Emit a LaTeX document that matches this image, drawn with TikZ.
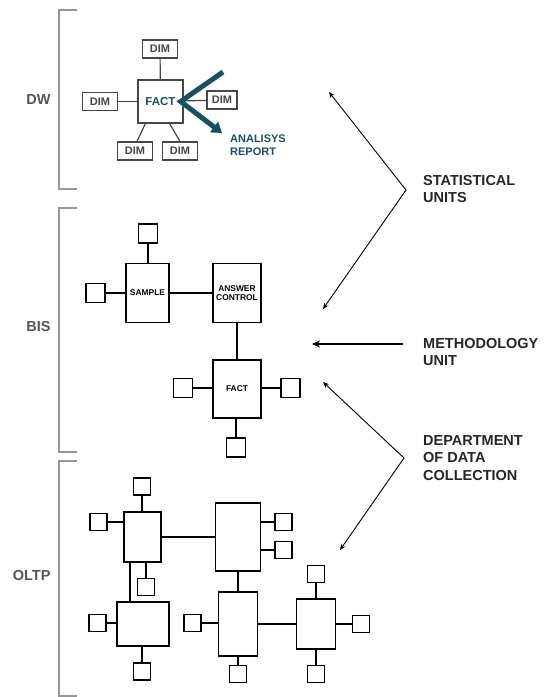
\documentclass[tikz,border=0pt]{standalone}
\usepackage{fontspec}
\setmainfont{Liberation Sans}
\usetikzlibrary{arrows.meta,positioning,calc}
\definecolor{dwteal}{RGB}{24,80,94}
\definecolor{dwgray}{RGB}{70,70,70}
\definecolor{brgray}{RGB}{150,150,150}
\definecolor{lblgray}{RGB}{85,85,85}

\begin{document}
\begin{tikzpicture}[x=1pt,y=-1pt,
    bracket/.style={draw=brgray, line width=2pt},
    lbl/.style={font=\bfseries\fontsize{14.5}{17.5}\selectfont, text=lblgray, anchor=east},
    side/.style={font=\bfseries\fontsize{14.5}{17.5}\selectfont, text=black!85, anchor=west, align=left, inner sep=0pt},
    dimbox/.style={draw=dwgray, line width=1.1pt, minimum width=35pt, minimum height=18pt, inner sep=0pt, font=\bfseries\fontsize{11}{12}\selectfont, text=dwgray},
    dwfactbox/.style={draw=dwgray, line width=1.3pt, minimum width=45pt, minimum height=43pt, inner sep=0pt, font=\bfseries\fontsize{11.5}{12}\selectfont, text=dwteal},
    bigbox/.style={draw, line width=1.6pt, inner sep=0pt, align=center, font=\bfseries\fontsize{8.4}{9.7}\selectfont},
    sbox/.style={draw, line width=1.1pt, minimum size=19pt, inner sep=0pt},
    obox/.style={draw, line width=1.1pt, minimum size=17pt, inner sep=0pt},
    link/.style={line width=1.8pt},
    dwlink/.style={draw=dwgray, line width=1.2pt},
    pointer/.style={line width=0.9pt, {Stealth[length=6pt,width=5pt]}-{Stealth[length=6pt,width=5pt]}}
]
\useasboundingbox (0,0) rectangle (544,697);

% brackets and section labels
\draw[bracket] (77,10) -- (59,10) -- (59,189) -- (77,189);
\draw[bracket] (77,208) -- (59,208) -- (59,452) -- (77,452);
\draw[bracket] (77,461) -- (59,461) -- (59,695.5) -- (77,695.5);
\node[lbl] (dw) at (54,100) {DW};
\node[lbl] (bis) at (54,327) {BIS};
\node[lbl] (oltp) at (54,576) {OLTP};

% DW
\node[dwfactbox] (dwfact) at (160.5,101.5) {FACT};
\node[dimbox] (dimT) at (160,49) {DIM};
\node[dimbox] (dimL) at (100,101.5) {DIM};
\node[dimbox, minimum width=30pt] (dimR) at (222,100) {DIM};
\node[dimbox] (dimBL) at (135,151) {DIM};
\node[dimbox] (dimBR) at (180,151) {DIM};
\draw[dwlink] (dwfact) -- (dimT);
\draw[dwlink] (dwfact) -- (dimL);
\draw[dwlink] (dwfact) -- (dimR);
\draw[dwlink] ([xshift=8pt]dwfact.south west) -- ([xshift=2pt]dimBL.north);
\draw[dwlink] ([xshift=-14pt]dwfact.south east) -- (dimBR.north);
\coordinate (tealin) at (223,72);
\coordinate (tealout) at (222,133);
\draw[dwteal, line width=5pt, miter limit=10, -{Triangle[length=10pt,width=13pt]}] (tealin) -- ([xshift=-3pt]dwfact.east) -- (tealout);
\node[font=\bfseries\fontsize{11}{12.5}\selectfont, text=dwteal, align=left, anchor=north west, inner sep=0pt] (report) at (230,135) {ANALISYS\\REPORT};

% BIS
\node[bigbox, minimum width=43pt, minimum height=59pt] (sample) at (147.5,293) {SAMPLE};
\node[bigbox, minimum width=48pt, minimum height=59pt] (answer) at (237,293) {ANSWER\\CONTROL};
\node[bigbox, minimum width=48pt, minimum height=58pt] (bisfact) at (237,389) {FACT};
\node[sbox] (sampT) at (148,233.5) {};
\node[sbox] (sampL) at (95.5,293) {};
\node[sbox] (factL) at (183,388) {};
\node[sbox] (factR) at (290.5,388) {};
\node[sbox] (factB) at (236,447.5) {};
\draw[link] (sample) -- (answer);
\draw[link] (answer) -- (bisfact);
\draw[link] (sampT) -- (sampT |- sample.north);
\draw[link] (sampL) -- (sampL -| sample.west);
\draw[link] (factL) -- (factL -| bisfact.west);
\draw[link] (factR) -- (factR -| bisfact.east);
\draw[link] (factB) -- (factB |- bisfact.south);

% OLTP
\node[bigbox, minimum width=37pt, minimum height=50pt] (oA) at (142.5,537) {};
\node[bigbox, minimum width=45pt, minimum height=68pt] (oB) at (238,537) {};
\node[bigbox, minimum width=52pt, minimum height=44pt] (oC) at (143,624) {};
\node[bigbox, minimum width=39pt, minimum height=64pt] (oD) at (238,624) {};
\node[bigbox, minimum width=39pt, minimum height=50pt] (oE) at (316,624) {};
\node[obox] (oAT) at (142,486.5) {};
\node[obox] (oAL) at (98.5,522) {};
\node[obox] (oAB) at (146,587) {};
\node[obox] (oBR1) at (283.5,522) {};
\node[obox] (oBR2) at (283.5,550) {};
\node[obox] (oCL) at (97.5,623) {};
\node[obox] (oCB) at (142,671.5) {};
\node[obox] (oDL) at (192.5,623) {};
\node[obox] (oDB) at (238,674) {};
\node[obox] (oET) at (316,574) {};
\node[obox] (oER) at (361,624) {};
\node[obox] (oEB) at (316,674) {};
\draw[link] (oA) -- (oB);
\draw[link] (oB) -- (oD);
\draw[link] (oD) -- (oE);
\draw[link] ([xshift=7pt]oA.south west) -- ([xshift=7pt]oA.south west |- oC.north);
\draw[link] (oAT) -- (oAT |- oA.north);
\draw[link] (oAL) -- (oAL -| oA.west);
\draw[link] (oAB) -- (oAB |- oA.south);
\draw[link] (oBR1) -- (oBR1 -| oB.east);
\draw[link] (oBR2) -- (oBR2 -| oB.east);
\draw[link] (oCL) -- (oCL -| oC.west);
\draw[link] (oCB) -- (oCB |- oC.south);
\draw[link] (oDL) -- (oDL -| oD.west);
\draw[link] (oDB) -- (oDB |- oD.south);
\draw[link] (oET) -- (oET |- oE.north);
\draw[link] (oER) -- (oER -| oE.east);
\draw[link] (oEB) -- (oEB |- oE.south);

% units on the right
\node[side] (stat) at (423,189) {STATISTICAL\\UNITS};
\node[side] (method) at (423,352) {METHODOLOGY\\UNIT};
\node[side] (dept) at (423,458) {DEPARTMENT\\OF DATA\\COLLECTION};
\coordinate (statTop) at (329,92);
\coordinate (statBot) at (323,309);
\coordinate (deptTop) at (323,382);
\coordinate (deptBot) at (340,550);
\coordinate (methTail) at (403,344);
\coordinate (methTip) at (312,344);
\draw[pointer] (statTop) -- ([xshift=-17pt,yshift=-1pt]stat.west) -- (statBot);
\draw[pointer] (deptTop) -- ([xshift=-19pt]dept.west) -- (deptBot);
\draw[line width=1.4pt, -{Stealth[length=8pt,width=7pt]}] (methTail) -- (methTip);
\end{tikzpicture}
\end{document}
